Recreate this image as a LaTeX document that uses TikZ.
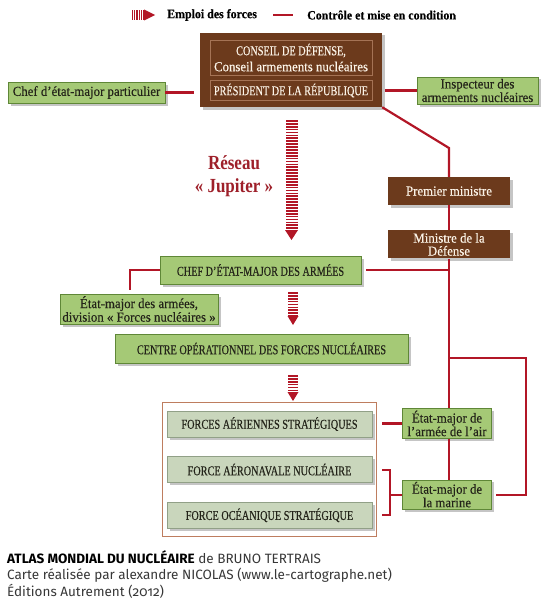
\documentclass[tikz,border=0pt]{standalone}
\usepackage{fontspec}
\setmainfont{Liberation Serif}[FakeStretch=0.93, FakeBold=0.35]
\newfontfamily\capsfont{Liberation Serif}[FakeStretch=0.76, FakeBold=0.35]
\newfontfamily\jupiterfont{Liberation Serif}[FakeStretch=0.85]
\newfontfamily\creditfont{Fira Sans}[Numbers=OldStyle]
\usepackage{tikz}
\usetikzlibrary{arrows.meta, positioning, fit, shadows}
\definecolor{mybrown}{RGB}{108,58,28}
\definecolor{mybrownline}{RGB}{165,115,85}
\definecolor{mycream}{RGB}{252,244,232}
\definecolor{mygreen}{RGB}{165,201,118}
\definecolor{mygreenline}{RGB}{95,135,55}
\definecolor{mygrey}{RGB}{201,214,188}
\definecolor{mygreyline}{RGB}{145,160,135}
\definecolor{myframe}{RGB}{190,125,95}
\definecolor{myred}{RGB}{178,22,38}
\definecolor{myjupiter}{RGB}{158,32,42}
\definecolor{mytext}{RGB}{35,35,25}
\definecolor{mycredit}{RGB}{55,55,55}
\tikzset{
  ombre/.style={drop shadow={shadow xshift=2.5pt, shadow yshift=-2.5pt,
    fill=black!45, opacity=0.5}},
  brownbox/.style={rectangle, fill=mybrown, text=mycream, align=center,
    inner sep=2pt, ombre, font=\fontsize{13.8}{13}\selectfont},
  cadre/.style={rectangle, draw=mybrownline, line width=0.5pt,
    text=mycream, align=center, inner sep=2pt},
  greenbox/.style={rectangle, draw=mygreenline, fill=mygreen, text=mytext,
    align=center, inner sep=2pt, line width=0.6pt, ombre,
    font=\fontsize{13.8}{12}\selectfont},
  capstext/.style={font=\capsfont\fontsize{13.5}{13}\selectfont},
  forcebox/.style={rectangle, draw=mygreyline, fill=mygrey, text=mytext,
    align=center, minimum width=205pt, minimum height=26pt, inner sep=2pt,
    line width=0.6pt, ombre, capstext},
  ctrl/.style={myred, line width=2.2pt},
  emploi/.style={myred, line width=12pt, dash pattern=on 1.7pt off 1.2pt,
    -{Triangle[length=10pt, width=13pt, line width=0pt]}}
}
\begin{document}
\begin{tikzpicture}[x=1pt, y=-1pt, node distance=19pt]
  \useasboundingbox (0,0) rectangle (550,610);

  % Legend
  \draw[emploi, line width=10pt, dash pattern=on 1.2pt off 1pt,
    -{Triangle[length=11pt, width=11pt, line width=0pt]}] (132,15) -- (155,15);
  \node[font=\bfseries\fontsize{12.8}{12}\selectfont, anchor=west, inner sep=1pt] (lgemploi) at (166,15) {Emploi des forces};
  \draw[ctrl] ([xshift=15pt]lgemploi.east) -- ++(20,0);
  \node[font=\bfseries\fontsize{12.8}{12}\selectfont, anchor=west, inner sep=1pt] (lgctrl) at (306,15) {Contrôle et mise en condition};

  % Top: president and councils
  \node[brownbox, minimum width=182pt, minimum height=74pt] (elysee) at (291,70) {};
  \node[cadre, minimum width=162pt, minimum height=35pt, font=\fontsize{13.8}{16}\selectfont] (conseil) at (291,57.5)
    {{\capsfont\fontsize{13.5}{16}\selectfont CONSEIL DE DÉFENSE,}\\Conseil armements nucléaires};
  \node[cadre, capstext, minimum width=162pt, minimum height=20pt, below=5pt of conseil] (president) {PRÉSIDENT DE LA RÉPUBLIQUE};
  \node[greenbox, minimum width=157pt, minimum height=21pt] (cemp) at (86.5,92.5) {Chef d’état-major particulier};
  \node[greenbox, minimum width=121pt, minimum height=25pt] (insp) at (477.5,90.5) {Inspecteur des\\armements nucléaires};

  % Government
  \node[brownbox, minimum width=122pt, minimum height=28pt] (pm) at (449,191) {Premier ministre};
  \node[brownbox, minimum width=122pt, minimum height=28pt, below=25pt of pm] (mindef) {Ministre de la\\Défense};

  % Jupiter network
  \node[font=\jupiterfont\bfseries\fontsize{20}{23}\selectfont, text=myjupiter, align=center] (jupiter) at (234,176) {Réseau\\«~Jupiter~»};
  \draw[emploi] (291.5,120) -- (291.5,240);

  % Military chain
  \node[greenbox, capstext, minimum width=201pt, minimum height=28pt] (cema) at (260.5,270) {CHEF D’ÉTAT-MAJOR DES ARMÉES};
  \node[greenbox, minimum width=158pt, minimum height=30pt] (ema) at (139,309) {État-major des armées,\\division «~Forces nucléaires~»};
  \draw[emploi, line width=10pt, -{Triangle[length=9pt, width=11pt, line width=0pt]}] (293,292) -- (293,325);
  \node[greenbox, capstext, minimum width=293pt, minimum height=29pt] (cofn) at (261.5,348.5) {CENTRE OPÉRATIONNEL DES FORCES NUCLÉAIRES};
  \draw[emploi, line width=10pt, -{Triangle[length=9pt, width=11pt, line width=0pt]}] (293,375) -- (293,401);

  % Forces
  \node[forcebox] (fas) at (269.5,424) {FORCES AÉRIENNES STRATÉGIQUES};
  \node[forcebox, below=of fas] (fan) {FORCE AÉRONAVALE NUCLÉAIRE};
  \node[forcebox, below=of fan] (fost) {FORCE OCÉANIQUE STRATÉGIQUE};
  \node[draw=myframe, line width=0.7pt, fit=(fas)(fost), inner xsep=4.5pt, inner ysep=8pt] (forces) {};
  \node[greenbox, minimum width=89pt, minimum height=27pt] (air) at (447,423.5) {État-major de\\l’armée de l’air};
  \node[greenbox, minimum width=89pt, minimum height=29pt, below=41pt of air] (marine) {État-major de\\la marine};

  % Control links
  \coordinate (coude) at (449,148);
  \coordinate (jonction) at (449,358);
  \coordinate (retour) at (526,358);
  \coordinate (accolade) at ([xshift=-12pt]marine.west);
  \draw[ctrl, shorten >=6pt] (cemp.east) -- (cemp.east -| elysee.west);
  \draw[ctrl, shorten <=3pt] (president.east -| elysee.east) -- (president.east -| insp.west);
  \draw[ctrl] (elysee.south east) -- (coude) -- (pm.north);
  \draw[ctrl] (pm) -- (mindef);
  \draw[ctrl] (mindef.south) -- (mindef.south |- air.north);
  \draw[ctrl, shorten <=5pt] (cema.east) -- (cema.east -| mindef.south);
  \draw[ctrl, shorten >=4pt] (cema.west) -| ([xshift=-9pt]ema.north);
  \draw[ctrl, shorten >=4pt] (jonction) -- (retour) |- (marine.east);
  \draw[ctrl] (air.south -| mindef.south) -- (marine.north -| mindef.south);
  \draw[ctrl] (air.west) -- ([xshift=10pt]air.west -| fas.east);
  \draw[ctrl] ([xshift=10pt]fan.east) -| (accolade) |- ([xshift=10pt]fost.east);
  \draw[ctrl] (accolade) -- (marine.west);

  % Credits
  \node[font=\creditfont\fontsize{13.5}{16.7}\selectfont, text=mycredit, anchor=north west, align=left, inner sep=0pt] (credits) at (7,550)
    {{\color{black}\textbf{ATLAS MONDIAL DU NUCLÉAIRE}} de BRUNO TERTRAIS\\Carte réalisée par alexandre NICOLAS (www.le-cartographe.net)\\Éditions Autrement (2012)};
\end{tikzpicture}
\end{document}
